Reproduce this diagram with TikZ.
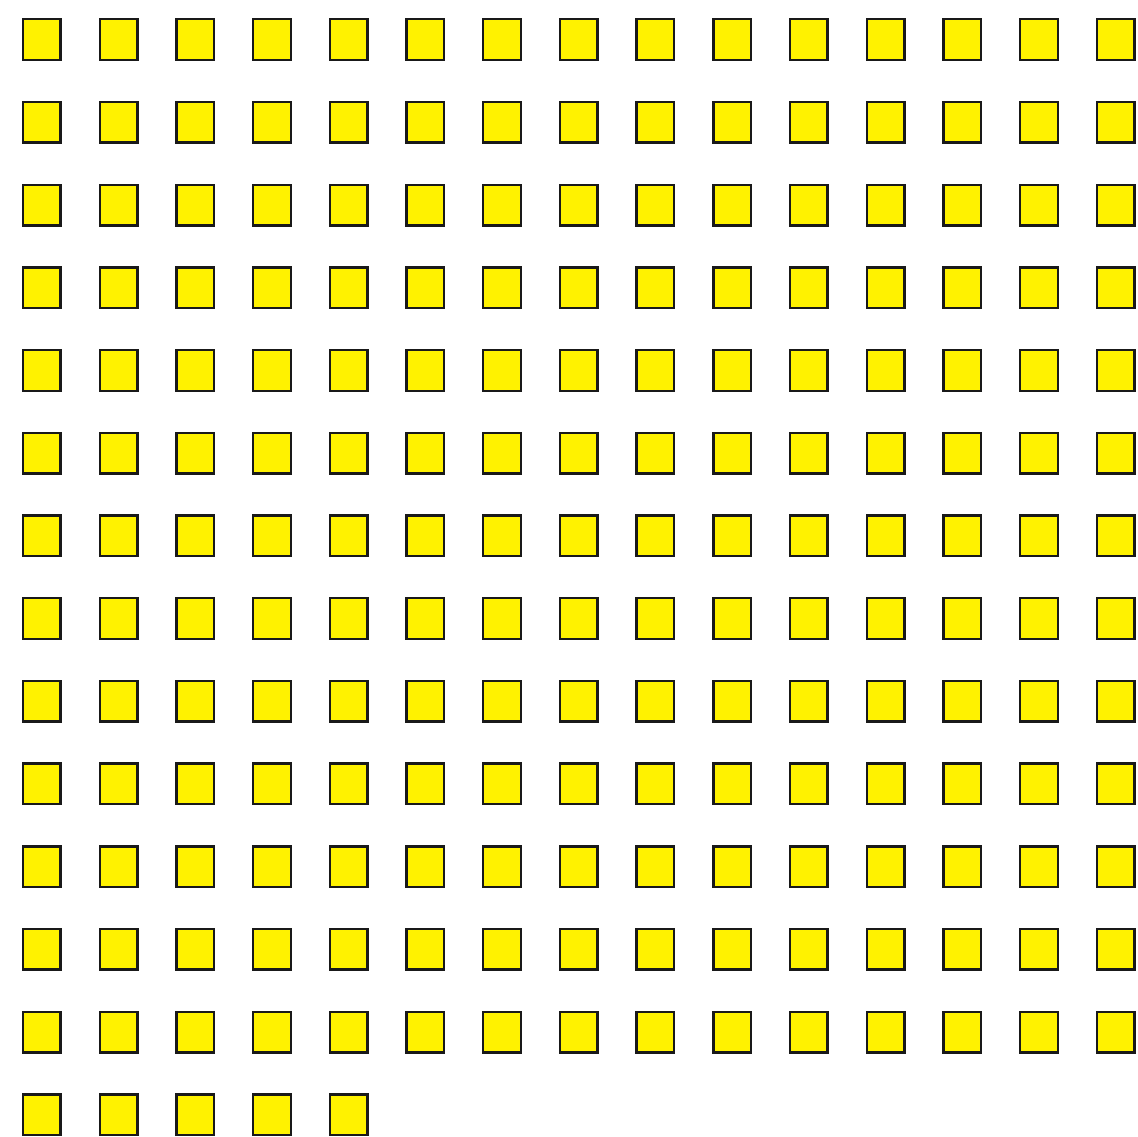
\documentclass[tikz,border=0pt]{standalone}
\begin{document}
\begin{tikzpicture}[x=1pt,y=-1pt,
  sq/.style={draw=black!90, fill=yellow, line width=2.4pt, minimum width=37.6pt, minimum height=40.6pt, inner sep=0pt, outer sep=0pt}]
\useasboundingbox (0,0) rectangle (1138,1137);
\fill[white] (0,0) rectangle (1138,1137);
\foreach \r in {0,...,12}{
  \foreach \c in {0,...,14}{
    \node[sq] (s-\r-\c) at ({41.8+76.7*\c},{39.6+82.7*\r}) {};
  }
}
\foreach \c in {0,...,4}{
  \node[sq] (s-13-\c) at ({41.8+76.7*\c},{39.6+82.7*13}) {};
}
\end{tikzpicture}
\end{document}
